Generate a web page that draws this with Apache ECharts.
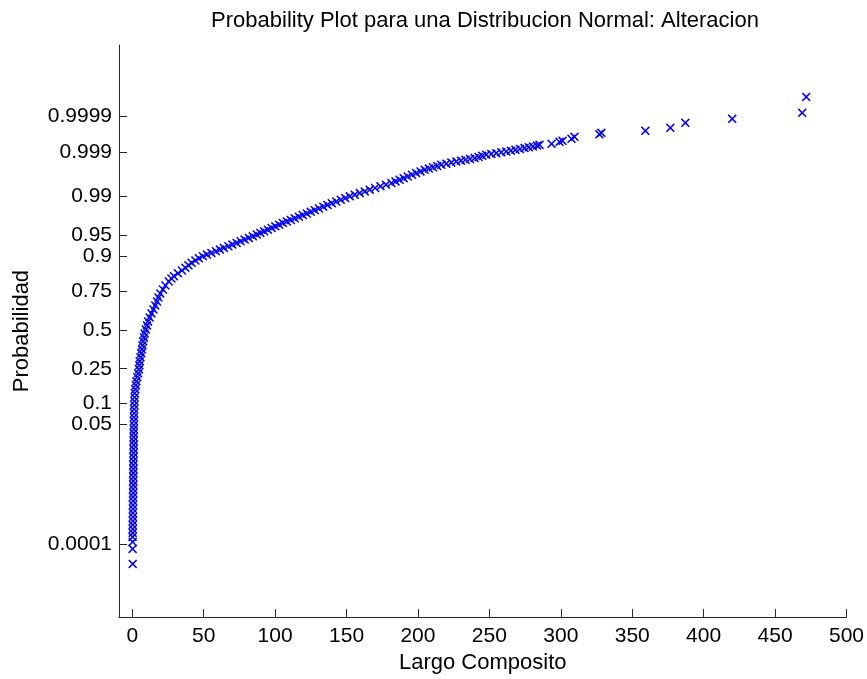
<!DOCTYPE html>
<html><head><meta charset="utf-8">
<script src="https://cdn.jsdelivr.net/npm/echarts@6/dist/echarts.min.js"></script>
<style>html,body{margin:0;padding:0;background:#fff}#c{width:867px;height:679px}</style>
</head><body><div id="c"></div>
<script>
// Tick labels
const xTicks = [0, 50, 100, 150, 200, 250, 300, 350, 400, 450, 500];
const probTicks = [0.0001, 0.05, 0.1, 0.25, 0.5, 0.75, 0.9, 0.95, 0.99, 0.999, 0.9999];
const probLabels = ['0.0001', '0.05', '0.1', '0.25', '0.5', '0.75', '0.9', '0.95', '0.99', '0.999', '0.9999'];

// Data: Largo Composito (x) and normal quantile of plotting probability (z)
const largo = [
  0.3,0.2,0.3,0.2,0.3,0.4,0.3,0.4,0.5,0.4,0.5,0.5,0.6,0.5,0.6,0.6,0.7,0.6,0.7,0.7,0.8,0.7,0.8,0.8,0.9,0.9,1.0,0.9,1.0,1.0,1.1,1.1,1.2,1.2,1.3,1.3,1.4,1.5,1.6,
  1.68,2.10,2.52,2.87,3.50,4.13,4.69,4.97,5.24,5.73,6.29,6.78,7.13,7.62,8.18,8.60,9.44,10.28,11.05,12.10,13.43,14.83,16.08,17.28,18.32,19.58,21.47,23.22,25.52,27.41,
  29.16,31.96,34.76,37.20,39.30,41.54,44.20,46.64,49.44,52.24,55.38,58.53,61.33,64.13,67.27,70.07,73.01,75.87,78.67,81.61,84.41,87.20,89.65,92.31,94.90,97.55,100.14,102.80,105.39,108.18,110.98,113.78,116.57,119.37,122.17,124.96,127.76,130.70,133.71,136.64,139.65,142.80,145.94,149.09,152.24,155.73,159.23,162.73,166.22,170.00,173.78,177.62,181.40,184.27,187.13,190.00,192.80,195.80,198.74,201.75,204.69,207.62,210.56,213.43,216.36,219.86,223.36,226.85,230.07,233.29,236.43,239.65,242.45,245.10,247.83,251.33,254.82,258.32,261.82,265.03,268.25,271.40,274.61,277.55,280.49,283.36,
  285.1,293.5,299.1,301.2,307.5,309.6,327.0,328.4,359.2,376.7,387.2,420.0,469.0,471.8
];
const zScore = [
  -4.066,-3.805,-3.684,-3.597,-3.528,-3.459,-3.389,-3.320,-3.251,-3.181,-3.112,-3.043,-2.973,-2.904,-2.835,-2.765,-2.696,-2.627,-2.557,-2.488,-2.419,-2.349,-2.280,-2.210,-2.141,-2.072,-2.002,-1.933,-1.864,-1.794,-1.725,-1.656,-1.586,-1.517,-1.448,-1.378,-1.309,-1.240,-1.170,
  -1.101,-1.032,-0.962,-0.893,-0.823,-0.754,-0.685,-0.615,-0.546,-0.477,-0.407,-0.338,-0.269,-0.199,-0.130,-0.061,0.009,0.078,0.147,0.217,0.286,0.355,0.425,0.494,0.563,0.633,0.702,0.771,0.841,0.893,
  0.933,0.983,1.032,1.078,1.122,1.165,1.205,1.243,1.279,1.309,1.338,1.366,1.396,1.425,1.453,1.482,1.512,1.540,1.569,1.598,1.626,1.656,1.685,1.713,1.742,1.772,1.800,1.829,1.859,1.885,1.911,1.938,1.968,1.995,2.023,2.051,2.080,2.110,2.141,2.171,2.202,2.231,2.261,2.290,2.320,2.349,2.377,2.406,2.436,2.465,2.495,2.523,2.552,2.580,2.609,2.637,2.666,2.696,2.724,2.753,2.783,2.803,2.826,2.847,2.869,2.888,2.907,2.926,2.940,2.956,2.970,2.985,3.004,3.024,3.043,3.057,3.070,3.086,3.100,3.114,3.129,3.143,3.159,3.173,3.187,3.202,
  3.216,3.233,3.268,3.285,3.320,3.355,3.398,3.424,3.459,3.511,3.597,3.667,3.771,4.048
];

// Inverse normal CDF (probability-scale transform for the axis ticks)
function norminv(p) {
  const a = [-3.969683028665376e+01, 2.209460984245205e+02, -2.759285104469687e+02, 1.383577518672690e+02, -3.066479806614716e+01, 2.506628277459239e+00];
  const b = [-5.447609879822406e+01, 1.615858368580409e+02, -1.556989798598866e+02, 6.680131188771972e+01, -1.328068155288572e+01];
  const c = [-7.784894002430293e-03, -3.223964580411365e-01, -2.400758277161838e+00, -2.549732539343734e+00, 4.374664141464968e+00, 2.938163982698783e+00];
  const d = [7.784695709041462e-03, 3.224671290700398e-01, 2.445134137142996e+00, 3.754408661907416e+00];
  const plow = 0.02425, phigh = 1 - plow;
  let q, r;
  if (p < plow) {
    q = Math.sqrt(-2 * Math.log(p));
    return (((((c[0]*q+c[1])*q+c[2])*q+c[3])*q+c[4])*q+c[5]) / ((((d[0]*q+d[1])*q+d[2])*q+d[3])*q+1);
  } else if (p <= phigh) {
    q = p - 0.5; r = q * q;
    return (((((a[0]*r+a[1])*r+a[2])*r+a[3])*r+a[4])*r+a[5])*q / (((((b[0]*r+b[1])*r+b[2])*r+b[3])*r+b[4])*r+1);
  } else {
    q = Math.sqrt(-2 * Math.log(1 - p));
    return -(((((c[0]*q+c[1])*q+c[2])*q+c[3])*q+c[4])*q+c[5]) / ((((d[0]*q+d[1])*q+d[2])*q+d[3])*q+1);
  }
}
const tickZ = probTicks.map(norminv);

const points = largo.map((v, i) => [v, zScore[i]]);
const FONT = 'Liberation Sans';
const axisColor = '#262626';

const chart = echarts.init(document.getElementById('c'), null, {renderer: 'canvas'});
chart.setOption({
  animation: false,
  backgroundColor: '#ffffff',
  title: {
    text: 'Probability Plot para una Distribucion Normal: Alteracion',
    left: 480, top: 5, textAlign: 'center',
    textStyle: {fontFamily: FONT, fontSize: 22, fontWeight: 'normal', color: '#000'}
  },
  grid: {left: 119, right: 20, top: 45, bottom: 61, containLabel: false},
  xAxis: {
    type: 'value', min: -9.3, max: 500,
    name: 'Largo Composito', nameLocation: 'middle', nameGap: 34,
    nameTextStyle: {fontFamily: FONT, fontSize: 22, color: '#000'},
    axisLine: {onZero: false, lineStyle: {color: axisColor, width: 1}},
    axisTick: {inside: true, length: 8, customValues: xTicks, lineStyle: {color: axisColor}},
    axisLabel: {customValues: xTicks, margin: 9, fontFamily: FONT, fontSize: 21, color: '#000'},
    splitLine: {show: false}
  },
  yAxis: {
    type: 'value', min: -4.99, max: 4.95,
    name: 'Probabilidad', nameLocation: 'middle', nameGap: 86, nameRotate: 90,
    nameTextStyle: {fontFamily: FONT, fontSize: 22, color: '#000'},
    axisLine: {onZero: false, lineStyle: {color: axisColor, width: 1}},
    axisTick: {inside: true, length: 8, customValues: tickZ, lineStyle: {color: axisColor}},
    axisLabel: {
      customValues: tickZ, margin: 7, fontFamily: FONT, fontSize: 21, color: '#000',
      formatter: function (v) {
        let best = 0, bd = Infinity;
        tickZ.forEach((t, i) => { const dd = Math.abs(t - v); if (dd < bd) { bd = dd; best = i; } });
        return probLabels[best];
      }
    },
    splitLine: {show: false}
  },
  series: [{
    type: 'scatter',
    data: points,
    symbol: 'path://M0,1.2L1.2,0L5,3.8L8.8,0L10,1.2L6.2,5L10,8.8L8.8,10L5,6.2L1.2,10L0,8.8L3.8,5Z',
    symbolSize: 9,
    itemStyle: {color: '#0000ff', opacity: 1},
    emphasis: {disabled: true}
  }]
});
</script>
</body></html>
